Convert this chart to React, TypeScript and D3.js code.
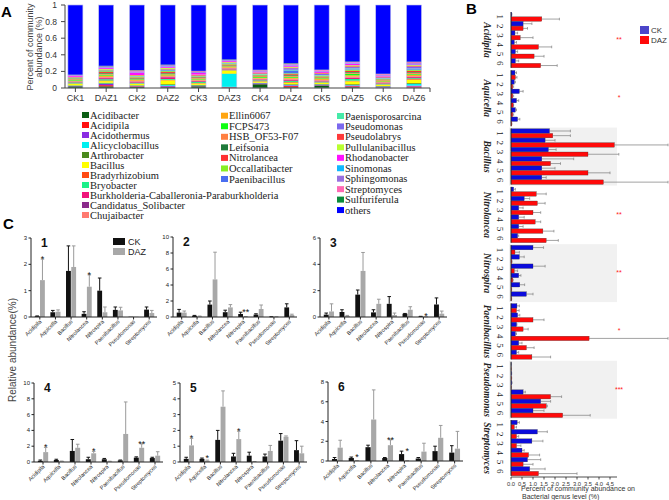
import React from 'react';
import * as d3 from 'd3';

// ---------- Panel A data ----------
const samples = ['CK1', 'DAZ1', 'CK2', 'DAZ2', 'CK3', 'DAZ3', 'CK4', 'DAZ4', 'CK5', 'DAZ5', 'CK6', 'DAZ6'];
const generaA = [
  'Acidibacter', 'Acidipila', 'Acidothermus', 'Alicyclobacillus', 'Arthrobacter', 'Bacillus',
  'Bradyrhizobium', 'Bryobacter', 'Burkholderia-Caballeronia-Paraburkholderia', 'Candidatus_Solibacter',
  'Chujaibacter', 'Ellin6067', 'FCPS473', 'HSB_OF53-F07', 'Leifsonia', 'Nitrolancea', 'Occallatibacter',
  'Paenibacillus', 'Paenisporosarcina', 'Pseudomonas', 'Pseudolabrys', 'Pullulanibacillus', 'Rhodanobacter',
  'Sinomonas', 'Sphingomonas', 'Streptomyces', 'Sulfuriferula', 'others',
];
const colorsA = [
  '#0b5e14', '#ff1010', '#8a2be2', '#00f0f0', '#4a8a1c', '#ffff00',
  '#ff4a14', '#1cf08a', '#f0157a', '#8b2a8b',
  '#ff7a70', '#ffa510', '#10ff10', '#ff8040', '#1e7a3a', '#ff3030', '#88ee22',
  '#4a6ef0', '#46eaa8', '#7b68ee', '#ff3a3a', '#b8ff30', '#ff10ff',
  '#10b8ff', '#9870e0', '#ff69b4', '#0a8a3a', '#0000ff',
];
// fractions per genus, in sample order
const abundanceA: number[][] = [
  [0.02, 0.02, 0.015, 0.01, 0.02, 0.005, 0.045, 0.01, 0.03, 0.01, 0.005, 0.005],
  [0.0003, 0.014, 0.0055, 0.0055, 0.0018, 0.0042, 0.0015, 0.0125, 0.002, 0.0105, 0.002, 0.0135],
  [0.005, 0.015, 0.005, 0.01, 0.005, 0.005, 0.01, 0.01, 0.008, 0.01, 0.01, 0.01],
  [0.002, 0.005, 0.003, 0.01, 0.003, 0.155, 0.002, 0.005, 0.003, 0.005, 0.002, 0.02],
  [0.005, 0.01, 0.005, 0.01, 0.008, 0.005, 0.005, 0.008, 0.005, 0.01, 0.005, 0.01],
  [0.0175, 0.019, 0.0155, 0.047, 0.017, 0.035, 0.014, 0.018, 0.014, 0.035, 0.014, 0.042],
  [0.005, 0.008, 0.005, 0.006, 0.005, 0.005, 0.005, 0.008, 0.005, 0.008, 0.005, 0.008],
  [0.012, 0.015, 0.01, 0.01, 0.012, 0.008, 0.01, 0.012, 0.01, 0.02, 0.01, 0.01],
  [0.005, 0.012, 0.008, 0.02, 0.008, 0.01, 0.008, 0.01, 0.006, 0.012, 0.006, 0.012],
  [0.005, 0.006, 0.005, 0.005, 0.005, 0.004, 0.005, 0.006, 0.005, 0.005, 0.005, 0.005],
  [0.005, 0.01, 0.01, 0.01, 0.008, 0.008, 0.008, 0.012, 0.01, 0.012, 0.008, 0.01],
  [0.008, 0.015, 0.01, 0.01, 0.01, 0.008, 0.01, 0.012, 0.012, 0.015, 0.008, 0.015],
  [0.01, 0.012, 0.008, 0.01, 0.01, 0.008, 0.01, 0.012, 0.008, 0.02, 0.008, 0.01],
  [0.008, 0.012, 0.01, 0.01, 0.01, 0.008, 0.01, 0.012, 0.012, 0.012, 0.008, 0.012],
  [0.005, 0.008, 0.006, 0.008, 0.006, 0.005, 0.006, 0.008, 0.006, 0.008, 0.005, 0.008],
  [0.0012, 0.0115, 0.006, 0.012, 0.0035, 0.01, 0.0035, 0.011, 0.0035, 0.0145, 0.003, 0.016],
  [0.005, 0.01, 0.008, 0.01, 0.008, 0.006, 0.008, 0.01, 0.008, 0.012, 0.006, 0.01],
  [0.0027, 0.0025, 0.003, 0.01, 0.0025, 0.0055, 0.002, 0.0355, 0.0035, 0.007, 0.0025, 0.0095],
  [0.005, 0.008, 0.006, 0.01, 0.006, 0.006, 0.006, 0.008, 0.006, 0.01, 0.005, 0.008],
  [0.0001, 0.0001, 0.0002, 0.0002, 0.0003, 0.0001, 0.0055, 0.018, 0.0135, 0.016, 0.01, 0.0235],
  [0.005, 0.008, 0.008, 0.008, 0.008, 0.006, 0.008, 0.008, 0.008, 0.01, 0.006, 0.008],
  [0.003, 0.01, 0.004, 0.012, 0.004, 0.008, 0.004, 0.01, 0.004, 0.012, 0.004, 0.01],
  [0.01, 0.015, 0.03, 0.015, 0.02, 0.01, 0.012, 0.015, 0.015, 0.02, 0.01, 0.01],
  [0.002, 0.004, 0.002, 0.005, 0.002, 0.004, 0.002, 0.004, 0.002, 0.004, 0.002, 0.004],
  [0.008, 0.01, 0.012, 0.01, 0.01, 0.008, 0.01, 0.01, 0.01, 0.01, 0.01, 0.01],
  [0.0028, 0.0015, 0.012, 0.0025, 0.0095, 0.0025, 0.005, 0.008, 0.0075, 0.0055, 0.0085, 0.0125],
  [0.003, 0.006, 0.004, 0.006, 0.004, 0.005, 0.004, 0.006, 0.004, 0.006, 0.004, 0.006],
  [0.84, 0.732, 0.784, 0.718, 0.793, 0.656, 0.78, 0.70, 0.779, 0.678, 0.828, 0.682],
];
const yTicksA = [0, 0.2, 0.4, 0.6, 0.8, 1];

// ---------- Panels B & C data ----------
const bcGenera = ['Acidipila', 'Aquicella', 'Bacillus', 'Nitrolancea', 'Nitrospira', 'Paenibacillus', 'Pseudomonas', 'Streptomyces'];
const sampleNums = ['1', '2', '3', '4', '5', '6'];
// [sample][genus], relative abundance (%)
const ckMean = [
  [0.03, 0.18, 1.75, 0.12, 1.0, 0.27, 0.01, 0.28],
  [0.55, 0.15, 1.55, 0.6, 0.38, 0.3, 0.02, 1.2],
  [0.18, 0.38, 1.7, 0.35, 1.0, 0.25, 0.03, 0.95],
  [0.15, 0.25, 1.4, 0.35, 0.35, 0.2, 0.55, 0.5],
  [0.2, 0.2, 1.4, 0.35, 0.4, 0.35, 1.35, 0.75],
  [0.2, 0.3, 1.4, 0.3, 0.7, 0.25, 1.0, 0.85],
];
const ckSd = [
  [0.01, 0.07, 0.95, 0.08, 0.48, 0.11, 0, 0.1],
  [0.4, 0.05, 0.45, 0.25, 0.22, 0.1, 0.01, 0.45],
  [0.12, 0.17, 0.35, 0.2, 0.55, 0.02, 0.02, 0.5],
  [0.1, 0.1, 1.45, 0.25, 0.1, 0.05, 0.1, 0.1],
  [0.1, 0.05, 0.6, 0.2, 0.22, 0.15, 0.45, 0.6],
  [0.15, 0.1, 0.2, 0.05, 0.3, 0.1, 0.5, 0.7],
];
const dazMean = [
  [1.4, 0.2, 1.9, 1.15, 0.18, 0.25, 0.01, 0.15],
  [0.55, 0.08, 4.7, 1.2, 0.03, 1.0, 0.02, 0.25],
  [0.42, 0.08, 3.5, 1.0, 0.15, 0.55, 0.01, 0.25],
  [1.25, 0.1, 1.8, 1.1, 0.08, 3.55, 1.8, 0.8],
  [1.05, 0.08, 3.5, 1.45, 0.02, 0.7, 1.6, 0.55],
  [1.35, 0.03, 4.2, 1.6, 0.02, 0.95, 2.35, 1.25],
];
const dazSd = [
  [0.8, 0.07, 0.8, 0.45, 0.2, 0.12, 0, 0.1],
  [0.2, 0.04, 3.4, 0.35, 0.02, 0.5, 0.01, 0.1],
  [0.58, 0.04, 1.4, 0.35, 0.15, 0.23, 0.005, 0.2],
  [0.6, 0.02, 0.45, 0.25, 0.02, 4.05, 0.5, 0.5],
  [0.45, 0.04, 1.0, 0.5, 0.01, 0.35, 0.05, 0.45],
  [0.75, 0.01, 3.0, 0.55, 0.01, 0.85, 1.25, 1.75],
];
const sigB = ['**', '*', '', '**', '**', '*', '***', ''];
const sigC: [number, string][][] = [
  [[0, '*'], [3, '*']],
  [[4, '**']],
  [[6, '*']],
  [[0, '*'], [3, '*'], [6, '**']],
  [[0, '*'], [1, '*'], [3, '*']],
  [[1, '*'], [3, '**'], [4, '*']],
];
const cMax = [3, 10, 6, 10, 5, 8];
const cStep = [1, 2, 2, 2, 1, 2];
const bTicks = [0, 0.5, 1, 1.5, 2, 2.5, 3, 3.5, 4, 4.5];

const SANS = 'Liberation Sans, Arial, sans-serif';
const SERIF = 'Liberation Serif, Times New Roman, serif';

function PanelA() {
  const x = d3.scalePoint<string>().domain(samples).range([75.4, 414]);
  const y = d3.scaleLinear().domain([0, 1]).range([88, 5]);
  const table = samples.map((s, j) => {
    const row: any = { sample: s };
    generaA.forEach((g, i) => (row[g] = abundanceA[i][j]));
    return row;
  });
  const series = d3.stack<any>().keys(generaA)(table);
  const bw = 15;
  const cols = [
    { from: 0, to: 11, x: 82, y0: 115, dy: 10.0 },
    { from: 11, to: 18, x: 221, y0: 115.7, dy: 10.55 },
    { from: 18, to: 28, x: 337, y0: 116, dy: 10.45 },
  ];
  return (
    <g>
      <text x={1} y={17} fontFamily={SANS} fontWeight="bold" fontSize={15}>A</text>
      <text transform="translate(33,47) rotate(-90)" textAnchor="middle" fontFamily={SANS} fontSize={9} fill="#444">Percent of community</text>
      <text transform="translate(42,47) rotate(-90)" textAnchor="middle" fontFamily={SANS} fontSize={9} fill="#444">abundance (%)</text>
      {series.map((ser, i) =>
        ser.map((d, j) => (
          <rect key={i + '-' + j} x={x(samples[j])! - bw / 2} width={bw} y={y(d[1])} height={Math.max(0, y(d[0]) - y(d[1]))} fill={colorsA[i]} />
        ))
      )}
      {samples.map((s) => (
        <rect key={'o' + s} x={x(s)! - bw / 2} width={bw} y={y(1)} height={y(0) - y(1)} fill="none" stroke="#c4c4ee" strokeWidth={0.6} />
      ))}
      <line x1={65} x2={65} y1={y(1)} y2={y(0)} stroke="#444" />
      {yTicksA.map((t) => (
        <g key={'yt' + t}>
          <line x1={61} x2={65} y1={y(t)} y2={y(t)} stroke="#444" />
          <text x={57} y={y(t) + 3} textAnchor="end" fontFamily={SANS} fontSize={8.5} fill="#333">{String(t)}</text>
        </g>
      ))}
      <line x1={65} x2={430} y1={y(0)} y2={y(0)} stroke="#444" />
      <line x1={430} x2={430} y1={y(0)} y2={y(0) + 4} stroke="#444" />
      {samples.map((s) => (
        <g key={'xt' + s}>
          <line x1={x(s)} x2={x(s)} y1={y(0)} y2={y(0) + 4} stroke="#444" />
          <text x={x(s)} y={y(0) + 13} textAnchor="middle" fontFamily={SANS} fontSize={9} fill="#333">{s}</text>
        </g>
      ))}
      {cols.map((c, ci) =>
        generaA.slice(c.from, c.to).map((g, k) => {
          const cy = c.y0 + k * c.dy;
          const idx = c.from + k;
          return (
            <g key={'lg' + ci + k}>
              <rect x={c.x} y={cy - 3} width={7} height={6} fill={colorsA[idx]} />
              <text x={c.x + 8} y={cy + 3.5} fontFamily={SERIF} fontSize={10.5} fill="#222">{g}</text>
            </g>
          );
        })
      )}
    </g>
  );
}

function PanelB() {
  const x0 = 511;
  const x = d3.scaleLinear().domain([0, 4.5]).range([x0, 610]);
  const yG = d3.scaleBand<string>().domain(bcGenera).range([12, 476]).paddingInner(0.04);
  const inner = d3.scaleBand<number>().domain(d3.range(12)).range([0, yG.bandwidth()]).padding(0.04);
  const axisY = 477;
  return (
    <g>
      <text x={466} y={14} fontFamily={SANS} fontWeight="bold" fontSize={15}>B</text>
      {bcGenera.map((g, gi) => {
        const top = yG(g)!;
        const h = yG.bandwidth();
        return (gi === 2 || gi === 4 || gi === 6) ? (
          <rect key={'bg' + g} x={509} y={top - 1} width={108} height={h + 2} fill="#f1f1f1" />
        ) : null;
      })}
      {bcGenera.map((g, gi) => {
        const top = yG(g)!;
        const h = yG.bandwidth();
        return (
          <g key={'bgr' + g}>
            {sampleNums.map((sn, si) => {
              const bars = [
                { v: ckMean[si][gi], sd: ckSd[si][gi], fill: '#0b0bdc', k: 2 * si },
                { v: dazMean[si][gi], sd: dazSd[si][gi], fill: '#ff0a0a', k: 2 * si + 1 },
              ];
              return bars.map((b) => {
                const by = top + inner(b.k)!;
                const bh = inner.bandwidth();
                const xe = Math.min(x(b.v + b.sd), 668);
                return (
                  <g key={'b' + gi + '-' + b.k}>
                    <line x1={x(b.v)} x2={xe} y1={by + bh / 2} y2={by + bh / 2} stroke="#8a8a8a" strokeWidth={0.8} />
                    <line x1={xe} x2={xe} y1={by + bh / 2 - 1.3} y2={by + bh / 2 + 1.3} stroke="#8a8a8a" strokeWidth={0.8} />
                    <rect x={x0} y={by} width={Math.max(0, x(b.v) - x0)} height={bh} fill={b.fill} stroke="#333" strokeWidth={0.3} />
                  </g>
                );
              });
            })}
            {sampleNums.map((sn, si) => {
              const cy = top + inner(2 * si)! + inner.step();
              return (
                <text key={'sn' + si} transform={`translate(497,${cy}) rotate(90)`} textAnchor="middle" fontFamily={SERIF} fontSize={9} fill="#222">{sn}</text>
              );
            })}
            <text transform={`translate(484,${top + h / 2}) rotate(90)`} textAnchor="middle" fontFamily={SERIF} fontStyle="italic" fontWeight="bold" fontSize={9.5} fill="#222">{g}</text>
            <line x1={x0} x2={x0} y1={top} y2={top + h} stroke="#222" strokeWidth={0.8} />
            {sigB[gi] && (
              <text x={619} y={top + h / 2 + 2} textAnchor="middle" fontFamily={SANS} fontSize={7} fill="#ff2020">{sigB[gi]}</text>
            )}
          </g>
        );
      })}
      <line x1={x0} x2={617} y1={axisY} y2={axisY} stroke="#222" strokeWidth={0.8} />
      {bTicks.map((t) => (
        <g key={'bt' + t}>
          <line x1={x(t)} x2={x(t)} y1={axisY} y2={axisY + 2.5} stroke="#222" strokeWidth={0.8} />
          <text x={x(t)} y={axisY + 8.5} textAnchor="middle" fontFamily={SANS} fontSize={5.8} fill="#333">{t.toFixed(1)}</text>
        </g>
      ))}
      <text x={521} y={491} fontFamily={SANS} fontSize={7} fill="#333">Percent of community abundance on</text>
      <text x={522} y={499} fontFamily={SANS} fontSize={7} fill="#333">Bacterial genus level (%)</text>
      <rect x={640} y={26} width={9} height={8} fill="#4b45c9" />
      <text x={651} y={33} fontFamily={SANS} fontSize={8} fill="#333">CK</text>
      <rect x={640} y={36} width={9} height={8} fill="#ff0a0a" />
      <text x={651} y={43} fontFamily={SANS} fontSize={8} fill="#333">DAZ</text>
    </g>
  );
}

const cLayout = [
  { x0: 31, x1: 157, top: 238, bottom: 317 },
  { x0: 173, x1: 297, top: 237, bottom: 317 },
  { x0: 320, x1: 447, top: 238, bottom: 317 },
  { x0: 34, x1: 163, top: 383, bottom: 462 },
  { x0: 180, x1: 307, top: 383, bottom: 462 },
  { x0: 328, x1: 463, top: 382, bottom: 461 },
];

function SubC({ si }: { si: number }) {
  const L = cLayout[si];
  const x = d3.scaleBand<string>().domain(bcGenera).range([L.x0 + 1, L.x1]).paddingInner(0.3).paddingOuter(0.15);
  const inner = d3.scaleBand<string>().domain(['CK', 'DAZ']).range([0, x.bandwidth()]).padding(0.08);
  const y = d3.scaleLinear().domain([0, cMax[si]]).range([L.bottom, L.top]);
  const ticks = d3.range(0, cMax[si] + 0.001, cStep[si]);
  return (
    <g>
      {bcGenera.map((g, gi) => {
        const bars = [
          { k: 'CK', v: ckMean[si][gi], sd: ckSd[si][gi], fill: '#111', ec: '#111' },
          { k: 'DAZ', v: dazMean[si][gi], sd: dazSd[si][gi], fill: '#a8a8a8', ec: '#9a9a9a' },
        ];
        return bars.map((b) => {
          const bx = x(g)! + inner(b.k)!;
          const bw = inner.bandwidth();
          const cx = bx + bw / 2;
          return (
            <g key={g + b.k}>
              {b.sd > 0 && (
                <g>
                  <line x1={cx} x2={cx} y1={y(b.v)} y2={y(b.v + b.sd)} stroke={b.ec} strokeWidth={1} />
                  <line x1={cx - 1.8} x2={cx + 1.8} y1={y(b.v + b.sd)} y2={y(b.v + b.sd)} stroke={b.ec} strokeWidth={1} />
                </g>
              )}
              <rect x={bx} width={bw} y={y(b.v)} height={L.bottom - y(b.v)} fill={b.fill} />
            </g>
          );
        });
      })}
      {sigC[si].map(([gi, s]) => {
        const g = bcGenera[gi];
        const top = Math.max(ckMean[si][gi] + ckSd[si][gi], dazMean[si][gi] + dazSd[si][gi]);
        const cx = x(g)! + inner('DAZ')! + inner.bandwidth() / 2;
        return (
          <text key={'s' + gi} x={cx} y={y(top) + 3} textAnchor="middle" fontFamily={SANS} fontSize={9} fill="#111">{s}</text>
        );
      })}
      <line x1={L.x0} x2={L.x0} y1={L.top} y2={L.bottom} stroke="#222" strokeWidth={1} />
      <line x1={L.x0} x2={L.x1} y1={L.bottom} y2={L.bottom} stroke="#222" strokeWidth={1} />
      {ticks.map((t) => (
        <g key={'t' + t}>
          <line x1={L.x0 - 2.5} x2={L.x0} y1={y(t)} y2={y(t)} stroke="#222" strokeWidth={1} />
          <text x={L.x0 - 4} y={y(t) + 2} textAnchor="end" fontFamily={SANS} fontSize={6} fill="#222">{String(t)}</text>
        </g>
      ))}
      {bcGenera.map((g) => {
        const cx = x(g)! + x.bandwidth() / 2;
        return (
          <g key={'xl' + g}>
            <line x1={cx} x2={cx} y1={L.bottom} y2={L.bottom + 2.5} stroke="#222" strokeWidth={1} />
            <text transform={`translate(${cx + 2},${L.bottom + 5}) rotate(-45)`} textAnchor="end" fontFamily={SANS} fontSize={5.5} fill="#222">{g}</text>
          </g>
        );
      })}
      <text x={L.x0 + 10} y={L.top + 9} fontFamily={SANS} fontWeight="bold" fontSize={12} fill="#111">{sampleNums[si]}</text>
    </g>
  );
}

function PanelC() {
  return (
    <g>
      <text x={3} y={229} fontFamily={SANS} fontWeight="bold" fontSize={15}>C</text>
      <text transform="translate(16,350) rotate(-90)" textAnchor="middle" fontFamily={SANS} fontSize={10} fill="#444">Relative abundance(%)</text>
      {cLayout.map((_, i) => (
        <SubC key={i} si={i} />
      ))}
      <rect x={113} y={238} width={12} height={7} fill="#111" />
      <text x={128} y={245} fontFamily={SANS} fontSize={9} fill="#222">CK</text>
      <rect x={113} y={248} width={12} height={7} fill="#a8a8a8" />
      <text x={128} y={255} fontFamily={SANS} fontSize={9} fill="#222">DAZ</text>
    </g>
  );
}

export default function App() {
  return (
    <svg width={669} height={500} viewBox="0 0 669 500" style={{ position: 'absolute', left: 0, top: 0, background: '#fff' }}>
      <rect width={669} height={500} fill="#fff" />
      <PanelA />
      <PanelB />
      <PanelC />
    </svg>
  );
}
